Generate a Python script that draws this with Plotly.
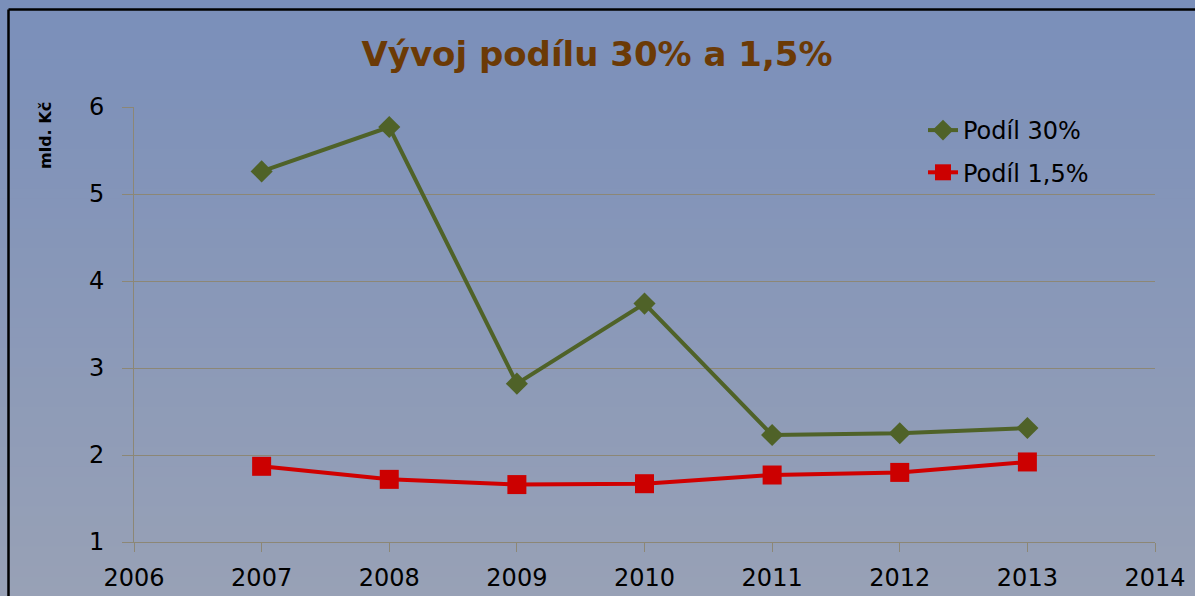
import plotly.graph_objects as go

years = [2007, 2008, 2009, 2010, 2011, 2012, 2013]
podil_30 = [5.26, 5.77, 2.82, 3.74, 2.23, 2.25, 2.31]
podil_15 = [1.87, 1.72, 1.66, 1.67, 1.77, 1.80, 1.92]
x_ticks = [2006, 2007, 2008, 2009, 2010, 2011, 2012, 2013, 2014]
y_ticks = [1, 2, 3, 4, 5, 6]

W, H = 1195, 596
L, R, T, B = 134, 40, 107, 54
pw, ph = W - L - R, H - T - B

def px2x(px):
    return (px - L) / pw

def py2y(py):
    return (H - B - py) / ph

fig = go.Figure()
fig.add_trace(go.Scatter(
    x=years, y=podil_30, name="Podíl 30%", mode="lines+markers",
    line=dict(color="#4f6228", width=4),
    marker=dict(symbol="diamond", size=17, color="#4f6228"),
    legendgroup="a",
))
fig.add_trace(go.Scatter(
    x=years, y=podil_15, name="Podíl 1,5%", mode="lines+markers",
    line=dict(color="#d00000", width=4),
    marker=dict(symbol="square", size=19, color="#cc0000"),
    legendgroup="b",
))

# gradient background
top = (122, 143, 186)
bot = (152, 161, 182)
n = 60
shapes = []
for i in range(n):
    t = i / (n - 1)
    c = tuple(round(top[k] + (bot[k] - top[k]) * t) for k in range(3))
    y0p = i * H / n
    y1p = (i + 1) * H / n + 1
    shapes.append(dict(type="rect", xref="paper", yref="paper",
                       x0=px2x(0), x1=px2x(W), y0=py2y(min(y1p, H)), y1=py2y(y0p),
                       fillcolor="rgb(%d,%d,%d)" % c, line=dict(width=0), layer="below"))
# outer border (cropped at right and bottom)
shapes.append(dict(type="line", xref="paper", yref="paper",
                   x0=px2x(8.5), x1=px2x(W), y0=py2y(9.5), y1=py2y(9.5),
                   line=dict(color="black", width=2.5), layer="below"))
shapes.append(dict(type="line", xref="paper", yref="paper",
                   x0=px2x(8.5), x1=px2x(8.5), y0=py2y(H), y1=py2y(9.5),
                   line=dict(color="black", width=2.5), layer="below"))

grid = "#8c8776"
fig.update_layout(
    width=W, height=H,
    margin=dict(l=L, r=R, t=T, b=B, autoexpand=False),
    paper_bgcolor="#8c9ab9",
    plot_bgcolor="rgba(0,0,0,0)",
    shapes=shapes,
    font=dict(family="DejaVu Sans", color="black"),
    title=dict(text="<b>Vývoj podílu 30% a 1,5%</b>", x=597 / W, xanchor="center",
               y=1 - 54 / H, yanchor="middle",
               font=dict(family="DejaVu Sans", size=34, color="#6b3a06")),
    xaxis=dict(range=[2006, 2014], tickvals=x_ticks, ticktext=[str(v) for v in x_ticks],
               showgrid=False, zeroline=False, showline=True, linecolor=grid, linewidth=1,
               ticks="outside", ticklen=9, tickcolor=grid, ticklabelstandoff=5,
               automargin=False, tickfont=dict(size=24, color="black")),
    yaxis=dict(range=[1, 6], tickvals=y_ticks, showgrid=True, gridcolor=grid, gridwidth=1,
               zeroline=False, showline=True, linecolor=grid, linewidth=1,
               ticks="outside", ticklen=11, tickcolor=grid, ticklabelstandoff=13,
               automargin=False, tickfont=dict(size=24, color="black")),
    legend=dict(x=px2x(923), y=py2y(108), xanchor="left", yanchor="top",
                bgcolor="rgba(0,0,0,0)", font=dict(size=24, color="black"),
                tracegroupgap=8, traceorder="grouped"),
    showlegend=True,
    annotations=[dict(text="<b>mld. Kč</b>", xref="paper", yref="paper",
                      x=px2x(45), y=py2y(136), showarrow=False, textangle=-90,
                      xanchor="center", yanchor="middle",
                      font=dict(family="DejaVu Sans", size=16, color="black"))],
)
fig.write_html(
    "out.html",
    config={"displayModeBar": False},
    post_script=(
        "var s=document.createElement('style');"
        "s.textContent='html,body{margin:0;padding:0;overflow:hidden;scrollbar-width:none;}"
        "::-webkit-scrollbar{display:none;width:0;height:0;}';"
        "document.head.appendChild(s);"
    ),
)
